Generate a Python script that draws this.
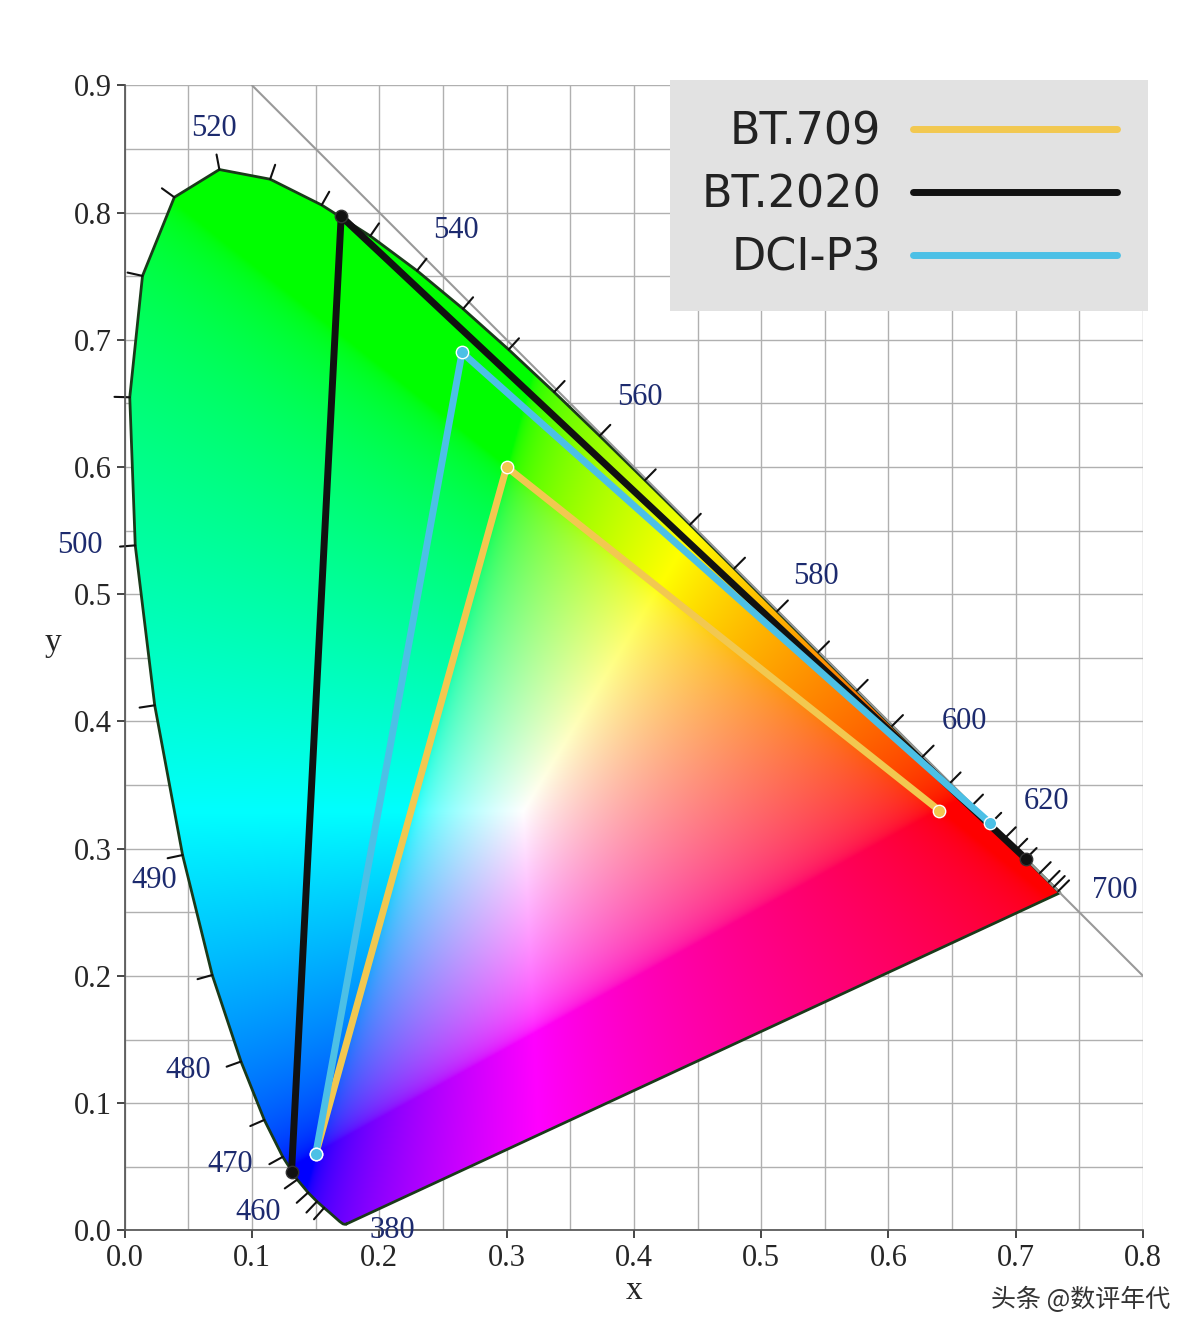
import numpy as np, pandas as pd, matplotlib
matplotlib.use("Agg")
import matplotlib.pyplot as plt, seaborn as sns
from matplotlib.path import Path
from matplotlib.patches import PathPatch

wl = [380,390,400,410,420,430,440,445,450,455,460,465,470,475,480,485,490,495,500,505,510,515,520,525,530,535,540,545,550,555,560,565,570,575,580,585,590,595,600,605,610,615,620,625,630,640,650,660,680,700]
lx = [0.1741,0.1738,0.1733,0.1726,0.1714,0.1689,0.1644,0.1611,0.1566,0.1510,0.1440,0.1355,0.1241,0.1096,0.0913,0.0687,0.0454,0.0235,0.0082,0.0039,0.0139,0.0389,0.0743,0.1142,0.1547,0.1929,0.2296,0.2658,0.3016,0.3373,0.3731,0.4087,0.4441,0.4788,0.5125,0.5448,0.5752,0.6029,0.6270,0.6482,0.6658,0.6801,0.6915,0.7006,0.7079,0.7190,0.7260,0.7300,0.7334,0.7347]
ly = [0.0050,0.0049,0.0048,0.0048,0.0051,0.0069,0.0109,0.0138,0.0177,0.0227,0.0297,0.0399,0.0578,0.0868,0.1327,0.2007,0.2950,0.4127,0.5384,0.6548,0.7502,0.8120,0.8338,0.8262,0.8059,0.7816,0.7543,0.7243,0.6923,0.6589,0.6245,0.5896,0.5547,0.5202,0.4866,0.4544,0.4242,0.3965,0.3725,0.3514,0.3340,0.3197,0.3083,0.2993,0.2920,0.2809,0.2740,0.2700,0.2666,0.2653]

gamuts = ["BT.709", "BT.2020", "DCI-P3"]
gx = {"BT.709": [0.64,0.30,0.15], "BT.2020": [0.708,0.170,0.131], "DCI-P3": [0.680,0.265,0.150]}
gy = {"BT.709": [0.33,0.60,0.06], "BT.2020": [0.292,0.797,0.046], "DCI-P3": [0.320,0.690,0.060]}
gcol = {"BT.709": "#f2c850", "BT.2020": "#111111", "DCI-P3": "#4cc0e6"}

lab_wl = [380,460,470,480,490,500,520,540,560,580,600,620,700]
lab_x = [0.21,0.105,0.083,0.05,0.023,-0.035,0.07,0.26,0.405,0.543,0.66,0.724,0.778]
lab_y = [0.0,0.014,0.052,0.126,0.275,0.538,0.866,0.786,0.655,0.514,0.40,0.337,0.267]

sns.set_theme(style="white")
plt.rcParams['font.family'] = ['Liberation Serif', 'DejaVu Serif']
fig = plt.figure(figsize=(12, 13.33), dpi=100)
ax = fig.add_axes([0.104, 0.077, 0.8485, 0.859])
ax.set_xlim(0, 0.8); ax.set_ylim(0, 0.9)

for v in np.arange(0, 0.801, 0.05):
    ax.axvline(v, color="#b0b0b0", lw=1, zorder=0)
for v in np.arange(0, 0.901, 0.05):
    ax.axhline(v, color="#b0b0b0", lw=1, zorder=0)

n = 600
xs = np.linspace(0, 0.8, n); ys = np.linspace(0, 0.9, n)
X, Y = np.meshgrid(xs, ys)
Yv = np.ones_like(X); yy = np.maximum(Y, 1e-4)
Xc = X / yy; Zc = (1 - X - Y) / yy
M = np.array([[3.2406,-1.5372,-0.4986],[-0.9689,1.8758,0.0415],[0.0557,-0.2040,1.0570]])
rgb = np.einsum('ij,jkl->kli', M, np.stack([Xc, Yv, Zc]))
rgb = np.clip(rgb, 0, None)
rgb = rgb / np.maximum(rgb.max(axis=2, keepdims=True), 1e-6)
rgb = np.where(rgb <= 0.0031308, 12.92*rgb, 1.055*np.power(rgb, 1/2.4) - 0.055)
rgb = np.clip(rgb, 0, 1)
im = ax.imshow(rgb, origin="lower", extent=[0, 0.8, 0, 0.9], aspect="auto", zorder=1, interpolation="bilinear")
poly = Path(np.column_stack([lx + [lx[0]], ly + [ly[0]]]))
patch = PathPatch(poly, transform=ax.transData, facecolor="none", edgecolor="none")
ax.add_patch(patch); im.set_clip_path(patch)
ax.plot(lx + [lx[0]], ly + [ly[0]], color="#1a3a1a", lw=2, zorder=2)

ax.plot([0.1, 0.8], [0.9, 0.2], color="#999999", lw=1.5, zorder=2)

P = np.column_stack([lx, ly]); cen = np.array([0.33, 0.33])
for i in range(len(wl)):
    if wl[i] < 450 or wl[i] > 680: continue
    a = P[max(i-1,0)]; b = P[min(i+1,len(wl)-1)]
    t = b - a; nrm = np.array([t[1], -t[0]]); nrm /= np.linalg.norm(nrm)
    if np.dot(nrm, P[i]-cen) < 0: nrm = -nrm
    q = P[i] + nrm*0.012
    ax.plot([P[i][0], q[0]], [P[i][1], q[1]], color="#111111", lw=1.5, zorder=2, clip_on=False)

for g in gamuts:
    df = pd.DataFrame({"x": gx[g] + [gx[g][0]], "y": gy[g] + [gy[g][0]], "o": range(4)})
    sns.lineplot(data=df, x="x", y="y", sort=False, color=gcol[g], lw=5, ax=ax, label=g, zorder=3)
    ax.scatter(gx[g], gy[g], s=80, color=gcol[g], edgecolor="white" if g != "BT.2020" else "#333", zorder=4)

for w, x, y in zip(lab_wl, lab_x, lab_y):
    ax.text(x, y, str(w), color="#1c2a6e", fontsize=22, ha="center", va="center", clip_on=False, zorder=5)

ax.set_xticks(np.arange(0, 0.81, 0.1)); ax.set_yticks(np.arange(0, 0.91, 0.1))
ax.set_xticklabels([f"{v:.1f}" for v in np.arange(0, 0.81, 0.1)], fontsize=22)
ax.set_yticklabels([f"{v:.1f}" for v in np.arange(0, 0.91, 0.1)], fontsize=22)
ax.tick_params(direction="out", length=6, width=1.2, bottom=True, left=True)
ax.set_xlabel("x", fontsize=24, labelpad=2); ax.set_ylabel("y", fontsize=24, rotation=0, labelpad=15)
for s in ["top", "right"]: ax.spines[s].set_visible(False)
for s in ["left", "bottom"]: ax.spines[s].set_color("#555")

leg = ax.legend(loc="upper right", bbox_to_anchor=(1.005, 1.005), markerfirst=False,
                handlelength=4.6, frameon=True, fancybox=False, borderpad=0.7, labelspacing=0.45,
                prop={"family": "DejaVu Sans", "size": 32}, borderaxespad=0, handletextpad=0.7)
leg.get_frame().set_facecolor("#e2e2e2"); leg.get_frame().set_edgecolor("none"); leg.get_frame().set_alpha(1)
leg.set_zorder(6)
for t in leg.get_texts(): t.set_color("#222")

fig.text(0.975, 0.025, "头条 @数评年代", ha="right", va="center", fontsize=18, color="#333",
         family=["Noto Sans CJK SC", "DejaVu Sans"])
fig.savefig("out.png", dpi=100)
